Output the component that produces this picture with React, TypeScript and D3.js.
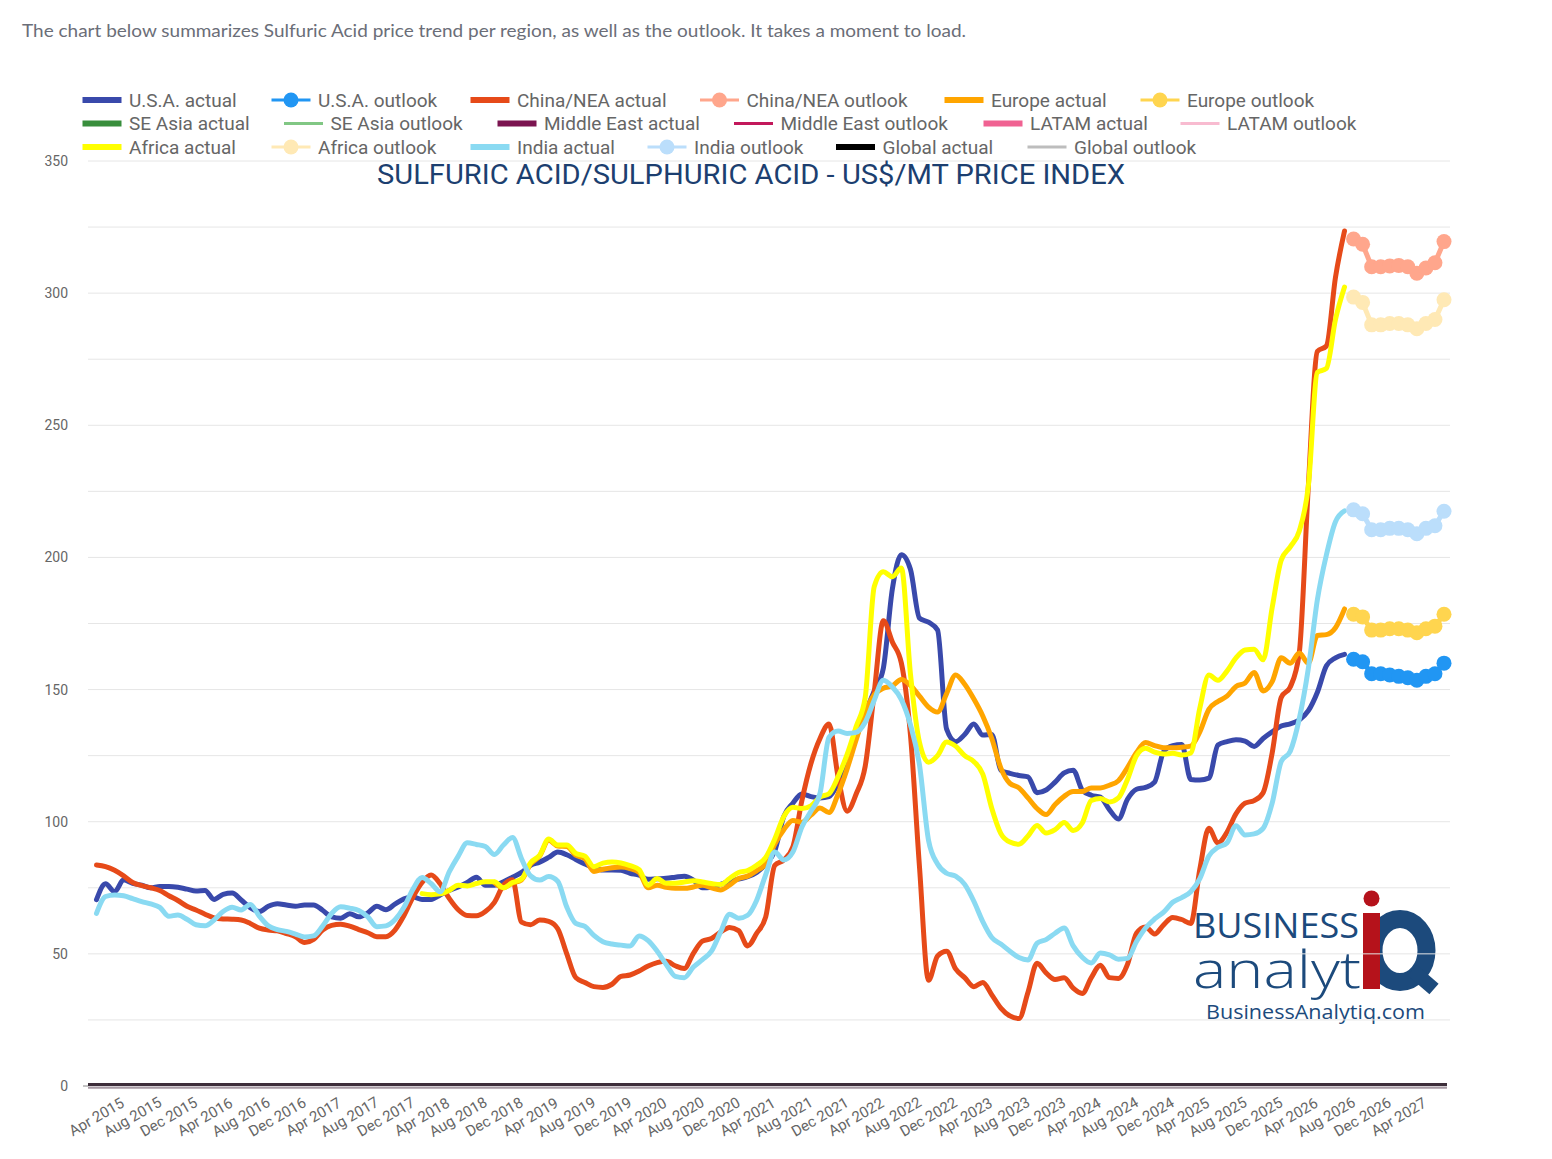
import React from 'react';
import * as d3 from 'd3';

// ---------- categories ----------
const MONTH_NAMES = ['Jan', 'Feb', 'Mar', 'Apr', 'May', 'Jun', 'Jul', 'Aug', 'Sep', 'Oct', 'Nov', 'Dec'];
const FIRST_YEAR = 2015;
const FIRST_MONTH = 3; // April
const MONTH_COUNT = 150; // Apr 2015 .. Sep 2027
const months: string[] = d3.range(MONTH_COUNT).map((k) => {
  const t = FIRST_MONTH + k;
  return `${MONTH_NAMES[t % 12]} ${FIRST_YEAR + Math.floor(t / 12)}`;
});
const TICK_EVERY = 4;
const LAST_TICK_LABEL = 'Apr 2027';
const yTicks = [0, 50, 100, 150, 200, 250, 300, 350];
const yGrid = [25, 50, 75, 100, 125, 150, 175, 200, 225, 250, 275, 300, 325, 350];

// ---------- series values (US$/MT) ----------
const usaActualStart = 0;
const usaActual = [
  70.5, 76.5, 73.5, 78, 76.7, 76, 75, 75.5, 75.5, 75.2,
  74.5, 73.8, 74, 70.6, 72.5, 73, 70.4, 67.5, 66, 68,
  69, 68.5, 68, 68.5, 68.5, 66.5, 64, 63.5, 65.2, 64,
  65.5, 68, 66.7, 68.8, 70.8, 71.5, 70.6, 70.6, 72.3, 74,
  75.3, 77, 79, 76, 76, 77.3, 79, 80.8, 83.5, 84.7,
  86.5, 88.5, 87.5, 85.7, 84, 82.5, 81.7, 81.7, 81.6, 80.5,
  79.8, 78.2, 78.4, 78.6, 79, 79.4, 77.9, 75, 75.2, 76.3,
  77.5, 78.3, 79.2, 80.8, 84, 89, 102, 107, 110.5, 109.5,
  109, 109.5, 114.5, 123, 132, 141, 149.5, 158, 188, 201,
  195.5, 177, 175.5, 172.5, 135, 130.3, 133, 137, 132.8, 133,
  119.5, 118.3, 117.5, 117, 111, 112, 115, 118.5, 119.5, 112,
  110, 109.3, 104.6, 101, 108.5, 112.3, 113, 115, 126.5, 128.8,
  129.2, 116, 115.8, 116.5, 129, 130.3, 131, 130.5, 128.5, 131.5,
  134, 136.2, 137, 138.5, 142, 149, 159, 162, 163.3,
];

const chinaActualStart = 0;
const chinaActual = [
  83.6, 83, 81.6, 79.5, 77, 75.8, 75, 74, 72, 70.2,
  68, 66.6, 65, 63.6, 63.2, 63.1, 62.8, 61.5, 59.7, 59,
  58.7, 57.7, 56.5, 54.3, 55.5, 59, 60.8, 61.2, 60.5, 59.2,
  58, 56.5, 56.5, 59, 64.5, 71.5, 77, 79.8, 76.5, 71,
  66.7, 64.5, 64.4, 66, 69.5, 76, 78, 62, 61, 62.8,
  62.3, 59.5, 50, 41, 39.2, 37.6, 37.3, 38.5, 41.5, 42,
  43.5, 45.4, 46.7, 47.2, 45.5, 44.5, 50.2, 54.8, 55.8, 58.2,
  60, 58.8, 53, 57.8, 64, 83.5, 85.5, 90.5, 108, 122,
  131.5, 137, 117, 104, 110.5, 121, 149, 176, 168, 160,
  133, 83, 40, 49.2, 51, 44.3, 41, 37.6, 39.2, 34.5,
  29.5, 26.5, 25.5, 35.5, 46.4, 42.8, 40.3, 41, 37, 35,
  41, 45.7, 41, 40.7, 46, 57.8, 60.2, 57.5, 61, 63.8,
  63, 61.5, 82, 97.5, 92, 96, 103, 107, 108, 111,
  126, 147, 151, 164, 227, 278, 280, 306, 323.5,
];

const europeActualStart = 44;
const europeActual = [
  77, 75, 76.8, 78, 84, 87, 93, 90.8, 90.6, 87.3,
  86, 81.2, 82, 82.6, 82.9, 82.3, 80.8, 75, 76, 75.2,
  74.8, 74.8, 75.3, 76, 75, 74.2, 76, 78.5, 79.4, 81.5,
  84, 91.5, 97, 100.5, 99.8, 102.5, 105.2, 103.5, 110.5, 120,
  131, 141.5, 148, 150.5, 151.4, 153.8, 151.6, 147.5, 143.4, 141.5,
  148.5, 155.5, 152, 146.5, 140, 131.5, 120.3, 114.5, 112.8, 109,
  105, 102.7, 106.5, 109.6, 111.4, 111.4, 112.8, 112.8, 113.8, 115.5,
  120.5, 126.2, 130, 128.8, 128, 128, 128.2, 128.6, 134, 142.5,
  145.5, 147.5, 151.2, 152.5, 156.5, 149.5, 153, 162, 160, 163.8,
  160, 170.5, 170.8, 173.4, 180.5,
];

const africaActualStart = 36;
const africaActual = [
  72.8, 72.4, 72.7, 74, 76, 75.7, 76.6, 77.3, 77.3, 75,
  77, 78.3, 84.5, 87.3, 93.5, 91.2, 91.2, 88, 87, 83,
  84.3, 84.8, 84.4, 83.4, 81.9, 76, 78.5, 76.7, 76.7, 77.2,
  77.7, 77.2, 76.6, 76.2, 78.5, 80.8, 81.5, 83.5, 86.5, 93.5,
  102, 105.5, 105, 106, 109.3, 110.6, 117, 125.5, 136, 147,
  189, 194.6, 192.7, 196, 156, 130, 122.5, 125, 130.2, 128.6,
  125, 122.8, 118, 105, 95.5, 92.3, 91.5, 94.6, 98.6, 95.7,
  97, 99.7, 96.7, 99.5, 108, 108.8, 107.5, 109, 116, 125,
  127.8, 126.3, 125.6, 125.9, 125.2, 126, 143, 155.5, 153.5, 157,
  162, 165, 165.3, 161.3, 181, 199, 204, 210, 227, 270,
  271.5, 290, 302.3,
];

const indiaActualStart = 0;
const indiaActual = [
  65.3, 71.7, 72.3, 72, 70.9, 69.8, 68.9, 67.6, 64.2, 64.7,
  63.1, 61, 60.6, 62.8, 66, 67.6, 66.6, 68.7, 64.3, 60.6,
  59.2, 58.5, 57.5, 56.4, 56.8, 60.5, 65.3, 67.8, 67.3, 66.4,
  64, 60.3, 60.6, 62.9, 67.6, 74.5, 78.9, 76.6, 73.5, 81,
  87, 92, 91.4, 90.6, 87.6, 91.2, 94, 86, 79.5, 77.9,
  79.3, 77.5, 67.7, 61.5, 60.4, 57, 54.6, 53.7, 53.3, 53,
  56.8, 55, 51, 46, 41.5, 41, 45, 47.8, 51, 58.2,
  65, 63.5, 64.6, 70.3, 80, 88.5, 85.5, 88.5, 98, 104,
  110.7, 132, 134.3, 133.4, 133.8, 137.6, 146, 153.5, 151, 146.2,
  136.7, 121.5, 93, 84, 80.5, 79.4, 76.3, 70, 62.2, 56.2,
  53.7, 51, 48.6, 47.7, 54, 55.4, 57.8, 59.8, 53, 48.7,
  46.5, 50.3, 49.6, 48, 48.3, 54.7, 59.8, 63.2, 65.8, 69.5,
  71.3, 73.5, 78.5, 87, 90.3, 92, 98.5, 95, 95.4, 97.5,
  107, 122.8, 126.7, 139, 158, 184, 201, 213.5, 217.6,
];

const outlookStart = 139; // Nov 2026 .. Sep 2027
const usaOutlook = [161.5, 160.5, 156, 156, 155.5, 155, 154.5, 153.5, 155, 156, 160];
const chinaOutlook = [320.5, 318.5, 310, 310, 310.3, 310.5, 310, 307.5, 309.5, 311.5, 319.5];
const europeOutlook = [178.5, 177.5, 172.5, 172.5, 173, 173, 172.5, 171.5, 173, 174, 178.5];
const africaOutlook = [298.5, 296.5, 288, 288, 288.5, 288.5, 288, 286.5, 288.5, 290, 297.5];
const indiaOutlook = [218, 216.5, 210.5, 210.5, 211, 211, 210.5, 209, 211, 212, 217.5];

type Kind = 'actual' | 'outlook' | 'outlookLine';
interface Series { name: string; color: string; kind: Kind; start: number; values: number[] }

const SERIES: Series[] = [
  { name: 'U.S.A. actual', color: '#3949AB', kind: 'actual', start: usaActualStart, values: usaActual },
  { name: 'U.S.A. outlook', color: '#2196F3', kind: 'outlook', start: outlookStart, values: usaOutlook },
  { name: 'China/NEA actual', color: '#E64A19', kind: 'actual', start: chinaActualStart, values: chinaActual },
  { name: 'China/NEA outlook', color: '#FFA68C', kind: 'outlook', start: outlookStart, values: chinaOutlook },
  { name: 'Europe actual', color: '#FFA500', kind: 'actual', start: europeActualStart, values: europeActual },
  { name: 'Europe outlook', color: '#FFD54F', kind: 'outlook', start: outlookStart, values: europeOutlook },
  { name: 'SE Asia actual', color: '#388E3C', kind: 'actual', start: 0, values: [] },
  { name: 'SE Asia outlook', color: '#81C784', kind: 'outlookLine', start: 0, values: [] },
  { name: 'Middle East actual', color: '#7B1450', kind: 'actual', start: 0, values: [] },
  { name: 'Middle East outlook', color: '#C2185B', kind: 'outlookLine', start: 0, values: [] },
  { name: 'LATAM actual', color: '#F06292', kind: 'actual', start: 0, values: [] },
  { name: 'LATAM outlook', color: '#F8BBD0', kind: 'outlookLine', start: 0, values: [] },
  { name: 'Africa actual', color: '#FFFF00', kind: 'actual', start: africaActualStart, values: africaActual },
  { name: 'Africa outlook', color: '#FFE9B5', kind: 'outlook', start: outlookStart, values: africaOutlook },
  { name: 'India actual', color: '#8ADAF2', kind: 'actual', start: indiaActualStart, values: indiaActual },
  { name: 'India outlook', color: '#BBDEFB', kind: 'outlook', start: outlookStart, values: indiaOutlook },
  { name: 'Global actual', color: '#000000', kind: 'actual', start: 0, values: [] },
  { name: 'Global outlook', color: '#BDBDBD', kind: 'outlookLine', start: 0, values: [] },
];

// legend layout (symbol left x per item, per row)
const LEGEND_ROWS_Y = [100, 123.5, 147];
const LEGEND_X = [
  [82.5, 271.5, 470.5, 700, 944.5, 1140.5],
  [82.5, 284, 497.5, 734, 983.5, 1180.5],
  [82.5, 271.5, 470.5, 647.5, 836, 1027.5],
];

const FONT = "Roboto, 'Noto Sans', Arial, sans-serif";
const LOGO_BLUE = '#1C4A7C';
const LOGO_RED = '#B5121B';

export default function App() {
  const x = d3.scalePoint<string>().domain(months).range([96.5, 1444]);
  const y = d3.scaleLinear().domain([0, 350]).range([1086, 161]);
  const plotLeft = 88;
  const plotRight = 1450;
  const lastTickIdx = months.indexOf(LAST_TICK_LABEL);

  const pathFor = (s: Series, curve: d3.CurveFactory) =>
    d3
      .line<number>()
      .x((_, k) => x(months[s.start + k]) as number)
      .y((v) => y(v))
      .curve(curve)(s.values) || '';

  const drawn = SERIES.filter((s) => s.values.length > 0);

  return (
    <svg
      width={1552}
      height={1159}
      viewBox="0 0 1552 1159"
      style={{ position: 'absolute', left: 0, top: 0, background: '#fff' }}
    >
      <rect x={0} y={0} width={1552} height={1159} fill="#ffffff" />

      {/* caption */}
      <text
        x={22}
        y={36.5}
        fontFamily="Lato, 'Noto Sans', sans-serif"
        fontSize={18}
        fill="#6B6E78"
        textLength={944}
        lengthAdjust="spacingAndGlyphs"
      >
        The chart below summarizes Sulfuric Acid price trend per region, as well as the outlook. It takes a moment to load.
      </text>

      {/* logo (background) */}
      <g>
        <ellipse cx={1400} cy={950.5} rx={26.5} ry={31.5} fill="none" stroke={LOGO_BLUE} strokeWidth={18} />
        <line x1={1412} y1={970} x2={1434} y2={989} stroke={LOGO_BLUE} strokeWidth={14} />
        <rect x={1363} y={913} width={17} height={76} fill={LOGO_RED} />
        <circle cx={1371.5} cy={898.5} r={8} fill={LOGO_RED} />
        <text fontFamily="'Open Sans', sans-serif" fill={LOGO_BLUE}>
          <tspan x={1193} y={938} fontSize={35} textLength={166} lengthAdjust="spacingAndGlyphs">
            BUSINESS
          </tspan>
          <tspan x={1193} y={988} fontSize={51} fontWeight={300} textLength={168} lengthAdjust="spacingAndGlyphs">
            analyt
          </tspan>
          <tspan x={1206} y={1019} fontSize={20.5} textLength={219} lengthAdjust="spacingAndGlyphs">
            BusinessAnalytiq.com
          </tspan>
        </text>
      </g>

      {/* grid */}
      <g>
        {yGrid.map((v) => (
          <line key={v} x1={plotLeft} x2={plotRight} y1={y(v)} y2={y(v)} stroke="#E6E6E6" strokeWidth={1} />
        ))}
      </g>

      {/* y labels */}
      <g fontFamily={FONT} fontSize={14} fill="#666666" textAnchor="end">
        {yTicks.map((v) => (
          <text key={v} x={68} y={y(v) + 5}>
            {v}
          </text>
        ))}
      </g>
      <line x1={83} x2={plotLeft} y1={y(0)} y2={y(0)} stroke="#888" strokeWidth={1} />

      {/* title */}
      <text
        x={751}
        y={184}
        textAnchor="middle"
        fontFamily={FONT}
        fontSize={27}
        fill="#1C3F70"
        textLength={748}
        lengthAdjust="spacingAndGlyphs"
      >
        SULFURIC ACID/SULPHURIC ACID - US$/MT PRICE INDEX
      </text>

      {/* legend */}
      <g fontFamily={FONT} fontSize={19} fill="#666666">
        {SERIES.map((s, idx) => {
          const row = Math.floor(idx / 6);
          const col = idx % 6;
          const sx = LEGEND_X[row][col];
          const cy = LEGEND_ROWS_Y[row];
          return (
            <g key={s.name}>
              {s.kind === 'actual' ? (
                <rect x={sx} y={cy - 3} width={39} height={6} fill={s.color} />
              ) : (
                <line x1={sx} x2={sx + 39} y1={cy} y2={cy} stroke={s.color} strokeWidth={3} />
              )}
              {s.kind === 'outlook' && <circle cx={sx + 19.5} cy={cy} r={7.5} fill={s.color} />}
              <text x={sx + 46.5} y={cy + 6.8}>
                {s.name}
              </text>
            </g>
          );
        })}
      </g>

      {/* zero baseline */}
      <line x1={plotLeft} x2={1447} y1={y(0) + 1.6} y2={y(0) + 1.6} stroke="#A89BA5" strokeWidth={2.4} />
      <line x1={plotLeft} x2={1447} y1={y(0) - 1.4} y2={y(0) - 1.4} stroke="#3D2E3A" strokeWidth={3} />

      {/* series */}
      <g>
        {drawn.map((s) =>
          s.kind === 'actual' ? (
            <path
              key={s.name}
              d={pathFor(s, d3.curveMonotoneX)}
              fill="none"
              stroke={s.color}
              strokeWidth={5}
              strokeLinejoin="round"
              strokeLinecap="round"
            />
          ) : (
            <g key={s.name}>
              <path d={pathFor(s, d3.curveLinear)} fill="none" stroke={s.color} strokeWidth={5} />
              {s.values.map((v, k) => (
                <circle key={k} cx={x(months[s.start + k])} cy={y(v)} r={7.5} fill={s.color} />
              ))}
            </g>
          )
        )}
      </g>

      {/* x labels */}
      <g fontFamily={FONT} fontSize={15} fill="#666666" textAnchor="middle">
        {months.map((m, k) =>
          k % TICK_EVERY === 0 && k <= lastTickIdx ? (
            <text
              key={m}
              x={x(m)}
              y={1117}
              dominantBaseline="central"
              transform={`rotate(-30, ${x(m)}, 1117)`}
            >
              {m}
            </text>
          ) : null
        )}
      </g>
    </svg>
  );
}
